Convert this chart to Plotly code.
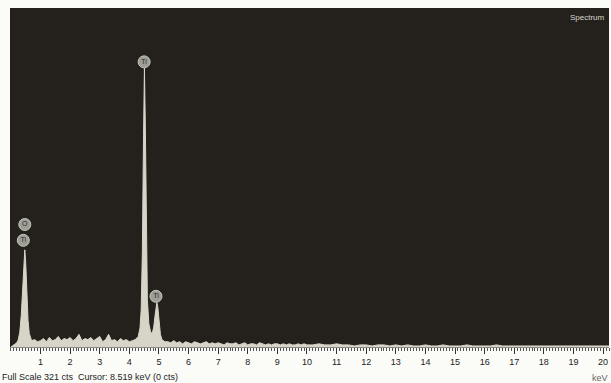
import plotly.graph_objects as go

# ---- data ----
energy_low = [0.00, 0.05, 0.10, 0.15, 0.20, 0.25, 0.30, 0.35, 0.40, 0.44, 0.47, 0.50,
              0.54, 0.58, 0.62, 0.66, 0.70]
counts_low = [0, 1, 2, 3, 4, 7, 14, 30, 62, 88, 92, 80, 50, 25, 13, 8, 6]

energy_bg1 = [0.8, 0.9, 1.0, 1.1, 1.2, 1.3, 1.4, 1.5, 1.6, 1.7, 1.8, 1.9, 2.0, 2.1, 2.2,
              2.3, 2.4, 2.5, 2.6, 2.7, 2.8, 2.9, 3.0, 3.1, 3.2, 3.3, 3.4, 3.5, 3.6, 3.7,
              3.8, 3.9, 4.0, 4.1]
counts_bg1 = [7, 5, 6, 8, 5, 9, 6, 7, 10, 6, 8, 7, 9, 6, 8, 12, 6, 8, 7, 9, 6, 8, 10, 5,
              7, 12, 6, 7, 5, 8, 6, 7, 5, 6]

energy_ti = [4.20, 4.30, 4.36, 4.40, 4.44, 4.48, 4.51, 4.54, 4.57, 4.61, 4.66, 4.72,
             4.77, 4.82, 4.87, 4.91, 4.93, 4.96, 5.00, 5.05, 5.10, 5.20]
counts_ti = [7, 10, 18, 35, 90, 200, 264, 210, 110, 45, 22, 14, 13, 18, 30, 40, 42, 38,
             25, 12, 7, 5]

energy_bg2 = [5.3, 5.4, 5.5, 5.6, 5.7, 5.8, 5.9, 6.0, 6.1, 6.2, 6.3, 6.4, 6.5, 6.6, 6.7,
              6.8, 6.9, 7.0, 7.1, 7.2, 7.3, 7.4, 7.5, 7.6, 7.7, 7.8, 7.9, 8.0, 8.1, 8.2,
              8.3, 8.4, 8.5, 8.6, 8.7, 8.8, 8.9, 9.0, 9.1, 9.2, 9.3, 9.4, 9.5, 9.6, 9.7,
              9.8, 9.9, 10.0]
counts_bg2 = [5, 4, 6, 4, 5, 3, 5, 4, 3, 5, 4, 3, 4, 5, 3, 4, 3, 4, 3, 2, 4, 3, 3, 4, 2,
              3, 4, 2, 3, 3, 2, 4, 3, 2, 3, 2, 3, 3, 2, 3, 2, 3, 2, 2, 3, 2, 3, 2]

energy_bg3 = [10.2, 10.4, 10.6, 10.8, 11.0, 11.2, 11.4, 11.6, 11.8, 12.0, 12.2, 12.4,
              12.6, 12.8, 13.0, 13.2, 13.4, 13.6, 13.8, 14.0, 14.2, 14.4, 14.6, 14.8,
              15.0, 15.2, 15.4, 15.6, 15.8, 16.0, 16.2, 16.4, 16.6, 16.8, 17.0, 17.2,
              17.4, 17.6, 17.8, 18.0, 18.2, 18.4, 18.6, 18.8, 19.0, 19.2, 19.4, 19.6,
              19.8, 20.0, 20.2]
counts_bg3 = [2, 3, 2, 2, 3, 2, 2, 1, 2, 2, 1, 2, 2, 1, 2, 1, 2, 1, 1, 2, 1, 1, 2, 1, 1,
              1, 2, 1, 1, 1, 1, 2, 1, 1, 1, 1, 1, 1, 1, 1, 1, 1, 1, 1, 1, 1, 1, 1, 1, 1, 1]

label_text = ["O", "Ti", "Ti", "Ti"]
label_energy = [0.47, 0.42, 4.50, 4.90]
label_counts = [116, 101, 270, 48]

tick_vals = list(range(1, 21))
tick_text = [str(v) for v in tick_vals]

energy = energy_low + energy_bg1 + energy_ti + energy_bg2 + energy_bg3
counts = counts_low + counts_bg1 + counts_ti + counts_bg2 + counts_bg3

fig = go.Figure()
fig.add_trace(go.Scatter(
    x=energy, y=counts, mode="lines", fill="tozeroy",
    line=dict(color="#d6d5c8", width=1), fillcolor="#d6d5c8",
    hoverinfo="skip", showlegend=False))

fig.add_trace(go.Scatter(
    x=label_energy, y=label_counts, mode="markers+text",
    marker=dict(size=12, color="#9f9e95", line=dict(color="#c8c7bd", width=1)),
    text=label_text, textposition="middle center",
    textfont=dict(family="Arial, Liberation Sans", size=7, color="#2e2e2a"),
    hoverinfo="skip", showlegend=False))

fig.update_layout(
    width=611, height=383,
    margin=dict(l=10, r=2, t=8, b=36),
    paper_bgcolor="#fbfbf8",
    plot_bgcolor="#24201b",
    xaxis=dict(range=[-0.03, 20.2], tickvals=tick_vals, ticktext=tick_text,
               showgrid=False, zeroline=False, showline=True, linecolor="#8a8a84",
               linewidth=1, ticks="outside", ticklen=6, tickcolor="#333333",
               tickfont=dict(family="Arial, Liberation Sans", size=9, color="#222222"),
               minor=dict(dtick=0.1, ticks="outside", ticklen=3, tickcolor="#555555",
                          showgrid=False)),
    yaxis=dict(range=[0, 321], showgrid=False, zeroline=False, showticklabels=False,
               ticks=""),
    annotations=[
        dict(text="Full Scale 321 cts  Cursor: 8.519 keV (0 cts)", xref="paper",
             yref="paper", x=-0.016, y=-0.088, xanchor="left", yanchor="middle",
             showarrow=False, font=dict(family="Arial, Liberation Sans", size=9,
                                        color="#222222")),
        dict(text="keV", xref="paper", yref="paper", x=1.002, y=-0.09,
             xanchor="right", yanchor="middle", showarrow=False,
             font=dict(family="Arial, Liberation Sans", size=9, color="#666666")),
        dict(text="Spectrum", xref="paper", yref="paper", x=0.997, y=0.972,
             xanchor="right", yanchor="middle", showarrow=False,
             font=dict(family="Arial, Liberation Sans", size=8, color="#d8d8d0")),
    ],
)

fig.write_html("out.html")
